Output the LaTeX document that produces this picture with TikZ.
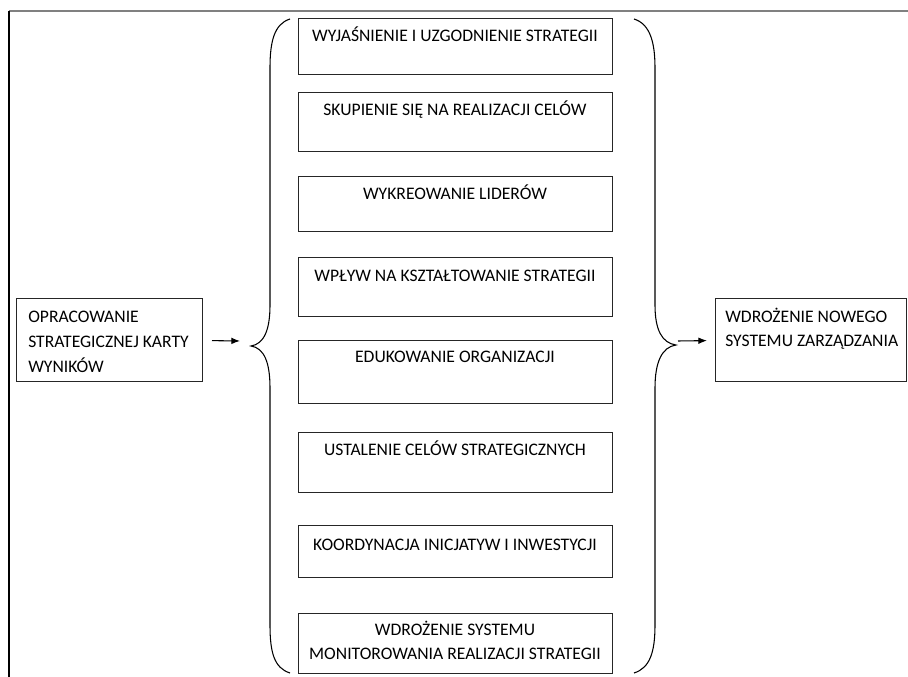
\documentclass[tikz,border=0pt]{standalone}
\usepackage{fontspec}
\setmainfont{Carlito}
\usetikzlibrary{arrows.meta}
\begin{document}
\begin{tikzpicture}[x=0.75pt,y=-0.75pt,
  box/.style={draw=black!85,line width=0.75pt,inner sep=0pt,outer sep=0pt,
    minimum width=235.5pt},
  sidebox/.style={draw=black!85,line width=0.75pt,inner sep=0pt,outer sep=0pt,minimum height=62.25pt},
  txt/.style={inner sep=0pt,anchor=base,font=\fontsize{13.2}{18.75}\selectfont},
  ltxt/.style={inner sep=0pt,anchor=base west,font=\fontsize{13.2}{18.75}\selectfont},
  brace/.style={draw=black,line width=0.8pt},
  arr/.style={draw=black,line width=0.8pt,-{Latex[length=6.5pt,width=5pt]}}]
\useasboundingbox (0,0) rectangle (908,677);
% frame
\draw[black!50,line width=0.9pt] (9,11) -- (908,11);
\draw[black,line width=1.1pt] (9,11) -- (9,677);
% center boxes
\node[box,minimum height=42pt] (b1) at (455,47) {};
\node[box,minimum height=44.25pt] (b2) at (455,122.5) {};
\node[box,minimum height=41.25pt] (b3) at (455,204.5) {};
\node[box,minimum height=44.25pt] (b4) at (455,287.5) {};
\node[box,minimum height=47.25pt] (b5) at (455,372.5) {};
\node[box,minimum height=45pt] (b6) at (455,463) {};
\node[box,minimum height=39pt] (b7) at (455,552) {};
\node[box,minimum height=45pt] (b8) at (455,643) {};
\node[txt] (t1) at (455,42) {WYJAŚNIENIE I UZGODNIENIE STRATEGII};
\node[txt] (t2) at (455,116) {SKUPIENIE SIĘ NA REALIZACJI CELÓW};
\node[txt] (t3) at (455,200) {WYKREOWANIE LIDERÓW};
\node[txt] (t4) at (455,282) {WPŁYW NA KSZTAŁTOWANIE STRATEGII};
\node[txt] (t5) at (455,363) {EDUKOWANIE ORGANIZACJI};
\node[txt] (t6) at (455,456) {USTALENIE CELÓW STRATEGICZNYCH};
\node[txt] (t7) at (455,551) {KOORDYNACJA INICJATYW I INWESTYCJI};
\node[txt] (t8a) at (455,635) {WDROŻENIE SYSTEMU};
\node[txt] (t8b) at (455,659) {MONITOROWANIA REALIZACJI STRATEGII};
% side boxes
\node[sidebox,minimum width=139.5pt] (lbox) at (109,340.5) {};
\node[ltxt] (l1) at (28,323) {OPRACOWANIE};
\node[ltxt] (l2) at (28,348) {STRATEGICZNEJ KARTY};
\node[ltxt] (l3) at (28,373) {WYNIKÓW};
\node[sidebox,minimum width=143.25pt] (rbox) at (810.5,340.5) {};
\node[ltxt] (r1) at (725,323) {WDROŻENIE NOWEGO};
\node[ltxt] (r2) at (725,347) {SYSTEMU ZARZĄDZANIA};
% braces
\coordinate (ltip) at (251,346);
\coordinate (rtip) at (676,345);
\draw[brace] (290,19) .. controls (274,24) and (270,42) .. (270,68)
  -- (270,305) .. controls (270,330) and (264,344) .. (ltip)
  .. controls (264,348) and (270,362) .. (270,388)
  -- (270,625) .. controls (270,652) and (274,668) .. (290,673);
\draw[brace] (634,19) .. controls (650,24) and (655,42) .. (655,68)
  -- (655,305) .. controls (655,330) and (662,343) .. (rtip)
  .. controls (662,347) and (655,362) .. (655,388)
  -- (655,625) .. controls (655,652) and (650,668) .. (634,673);
% arrows
\coordinate (lend) at (240,341);
\coordinate (rstart) at (678,341);
\draw[arr,shorten <=7.5pt] (lbox.east) -- (lend);
\draw[arr,shorten >=6pt] (rstart) -- (rbox.west);
\end{tikzpicture}
\end{document}
